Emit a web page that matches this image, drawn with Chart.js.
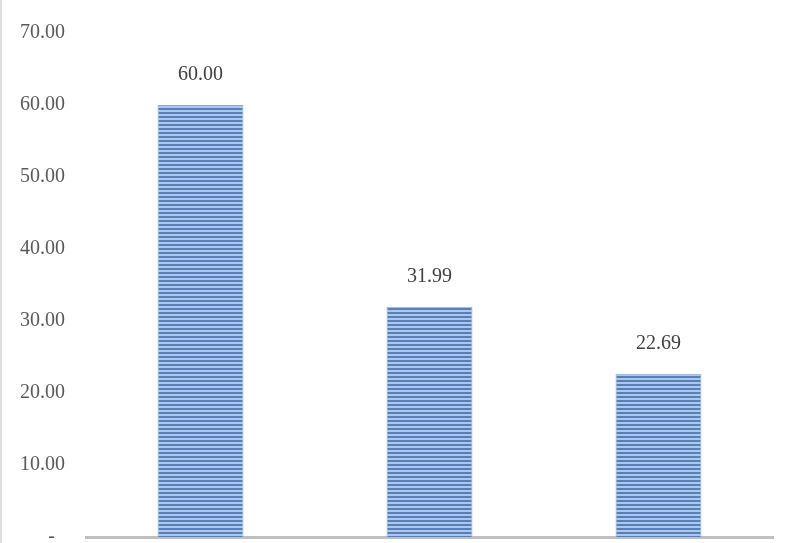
<!DOCTYPE html>
<html>
<head>
<meta charset="utf-8">
<script src="https://cdn.jsdelivr.net/npm/chart.js@4.4.0/dist/chart.umd.min.js"></script>
<style>
    html, body { margin: 0; padding: 0; background: #ffffff; overflow: hidden; height: 543px; }
    #wrap { position: relative; width: 801px; height: 570px; border-left: 2px solid #dedede; box-sizing: border-box; }
</style>
</head>
<body>
<div id="wrap"><canvas id="barChart"></canvas></div>
<script>
// Chart data
const categories = ['1', '2', '3'];
const values = [60.00, 31.99, 22.69];
const yTicks = [0, 10, 20, 30, 40, 50, 60, 70];

// Horizontal stripe fill like the original bars
function makeStripes() {
    const c = document.createElement('canvas');
    c.width = 4;
    c.height = 4;
    const g = c.getContext('2d');
    g.fillStyle = '#a9c8ef';
    g.fillRect(0, 0, 4, 4);
    g.fillStyle = '#5a7fb6';
    g.fillRect(0, 0, 4, 2);
    return g.createPattern(c, 'repeat');
}

// Value labels above bars
const valueLabels = {
    id: 'valueLabels',
    afterDatasetsDraw(chart) {
        const ctx = chart.ctx;
        const meta = chart.getDatasetMeta(0);
        ctx.save();
        ctx.font = '20px "Liberation Serif"';
        ctx.fillStyle = '#404040';
        ctx.textAlign = 'center';
        ctx.textBaseline = 'middle';
        meta.data.forEach((bar, i) => {
            ctx.fillText(values[i].toFixed(2), bar.x, bar.y - 30);
        });
        ctx.restore();
    }
};

const ctx = document.getElementById('barChart').getContext('2d');
new Chart(ctx, {
    type: 'bar',
    data: {
        labels: categories,
        datasets: [{
            data: values,
            backgroundColor: makeStripes(),
            borderColor: '#86a8d8',
            borderWidth: { left: 1, right: 1, top: 1, bottom: 0 },
            categoryPercentage: 1,
            barPercentage: 0.375
        }]
    },
    options: {
        responsive: true,
        maintainAspectRatio: false,
        animation: false,
        layout: { padding: { top: 18, right: 28, bottom: 6, left: 0 } },
        plugins: {
            legend: { display: false },
            tooltip: { enabled: false }
        },
        scales: {
            x: {
                afterFit: s => { s.height = 0; },
                grid: { display: false },
                border: { color: '#bfbfbf', width: 3 },
                ticks: { display: false }
            },
            y: {
                min: 0,
                max: 70,
                afterFit: s => { s.width = 84; },
                afterBuildTicks: s => { s.ticks = yTicks.map(v => ({ value: v })); },
                grid: { display: false, drawTicks: false },
                border: { display: false },
                ticks: {
                    padding: 21,
                    color: '#595959',
                    font: { family: 'Liberation Serif', size: 20 },
                    callback: v => v === 0 ? '-  ' : v.toFixed(2)
                }
            }
        }
    },
    plugins: [valueLabels]
});
</script>
</body>
</html>
